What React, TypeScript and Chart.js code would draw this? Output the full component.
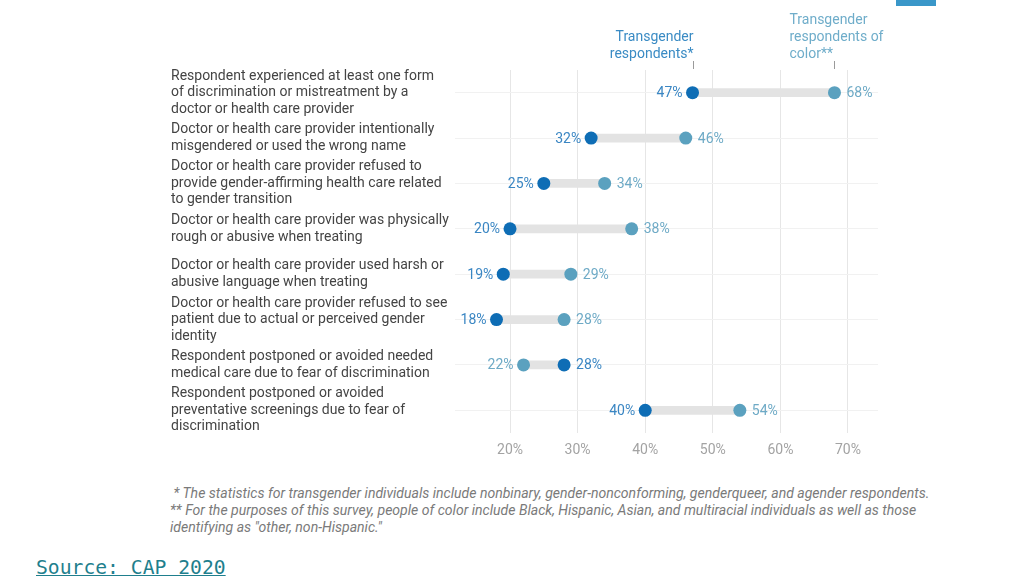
import React, { useEffect, useRef } from "react";
import { Chart, registerables } from "chart.js";

Chart.register(...registerables);

const categories: string[][] = [
  ["Respondent experienced at least one form", "of discrimination or mistreatment by a", "doctor or health care provider"],
  ["Doctor or health care provider intentionally", "misgendered or used the wrong name"],
  ["Doctor or health care provider refused to", "provide gender-affirming health care related", "to gender transition"],
  ["Doctor or health care provider was physically", "rough or abusive when treating"],
  ["Doctor or health care provider used harsh or", "abusive language when treating"],
  ["Doctor or health care provider refused to see", "patient due to actual or perceived gender", "identity"],
  ["Respondent postponed or avoided needed", "medical care due to fear of discrimination"],
  ["Respondent postponed or avoided", "preventative screenings due to fear of", "discrimination"],
];

const transgender: number[] = [47, 32, 25, 20, 19, 18, 28, 40];
const peopleOfColor: number[] = [68, 46, 34, 38, 29, 28, 22, 54];
const xTicks: number[] = [20, 30, 40, 50, 60, 70];

const seriesTitles: string[][] = [
  ["Transgender", "respondents*"],
  ["Transgender", "respondents of", "color**"],
];

const footnotes: string[] = [
  "\u00a0* The statistics for transgender individuals include nonbinary, gender-nonconforming, genderqueer, and agender respondents.",
  "** For the purposes of this survey, people of color include Black, Hispanic, Asian, and multiracial individuals as well as those",
  "identifying as \"other, non-Hispanic.\"",
];

const DARK = "#0e6db5";
const LIGHT = "#5ba1bf";
const DARK_TEXT = "#3a86c3";
const LIGHT_TEXT = "#6eaac6";
const FONT = "Roboto, 'Noto Sans', sans-serif";

const overlayPlugin = {
  id: "overlay",
  afterDatasetsDraw(chart: any) {
    const ctx = chart.ctx;
    const m0 = chart.getDatasetMeta(1);
    const m1 = chart.getDatasetMeta(2);
    ctx.save();
    ctx.font = `14px ${FONT}`;
    ctx.textBaseline = "middle";
    for (let i = 0; i < transgender.length; i++) {
      const a = m0.data[i];
      const b = m1.data[i];
      const tgLeft = transgender[i] <= peopleOfColor[i];
      ctx.fillStyle = DARK_TEXT;
      if (tgLeft) {
        ctx.textAlign = "right";
        ctx.fillText(transgender[i] + "%", a.x - 10, a.y + 1);
      } else {
        ctx.textAlign = "left";
        ctx.fillText(transgender[i] + "%", a.x + 12, a.y + 1);
      }
      ctx.fillStyle = LIGHT_TEXT;
      if (tgLeft) {
        ctx.textAlign = "left";
        ctx.fillText(peopleOfColor[i] + "%", b.x + 12, b.y + 1);
      } else {
        ctx.textAlign = "right";
        ctx.fillText(peopleOfColor[i] + "%", b.x - 10, b.y + 1);
      }
    }
    const xs = chart.scales.x;
    const x0 = xs.getPixelForValue(transgender[0]);
    const x1 = xs.getPixelForValue(peopleOfColor[0]);
    ctx.strokeStyle = "#9a9a9a";
    ctx.lineWidth = 1;
    ctx.beginPath();
    ctx.moveTo(Math.round(x0) + 0.5, 61);
    ctx.lineTo(Math.round(x0) + 0.5, 69);
    ctx.moveTo(Math.round(x1) + 0.5, 61);
    ctx.lineTo(Math.round(x1) + 0.5, 69);
    ctx.stroke();
    ctx.font = `14px ${FONT}`;
    ctx.fillStyle = "#3a8bc4";
    ctx.textAlign = "right";
    seriesTitles[0].forEach((t, k) => ctx.fillText(t, x0 + 1, 37 + k * 17));
    ctx.fillStyle = "#6fadca";
    ctx.textAlign = "left";
    seriesTitles[1].forEach((t, k) => ctx.fillText(t, x1 - 45, 20 + k * 17));
    ctx.restore();
  },
};

export default function App() {
  const ref = useRef<HTMLCanvasElement | null>(null);
  useEffect(() => {
    document.body.style.margin = "0";
    const chart = new Chart(ref.current as HTMLCanvasElement, {
      type: "bar",
      data: {
        labels: categories,
        datasets: [
          {
            type: "bar",
            data: transgender.map((v, i) => [Math.min(v, peopleOfColor[i]), Math.max(v, peopleOfColor[i])]) as any,
            backgroundColor: "#e3e3e3",
            barThickness: 8,
            borderSkipped: false,
            order: 3,
          } as any,
          {
            type: "line",
            data: transgender,
            showLine: false,
            pointRadius: 6.5,
            pointBackgroundColor: DARK,
            pointBorderColor: DARK,
            pointBorderWidth: 0,
            order: 1,
          } as any,
          {
            type: "line",
            data: peopleOfColor,
            showLine: false,
            pointRadius: 6.5,
            pointBackgroundColor: LIGHT,
            pointBorderColor: LIGHT,
            pointBorderWidth: 0,
            order: 2,
          } as any,
        ],
      },
      options: {
        indexAxis: "y",
        animation: false,
        responsive: false,
        maintainAspectRatio: false,
        layout: { padding: { left: 171, right: 146, top: 70, bottom: 0 } },
        plugins: { legend: { display: false }, tooltip: { enabled: false } },
        scales: {
          x: {
            type: "linear",
            min: 11.86,
            max: 74.44,
            afterBuildTicks: (s: any) => {
              s.ticks = xTicks.map((v) => ({ value: v }));
            },
            afterFit: (s: any) => {
              s.height = 37;
            },
            grid: { color: "#e6e6e6", drawTicks: false },
            border: { display: false },
            ticks: {
              padding: 9,
              color: "#a3a3a3",
              font: { family: FONT, size: 14 },
              callback: (v: any) => v + "%",
            },
          },
          y: {
            type: "category",
            offset: true,
            afterFit: (s: any) => {
              s.width = 284;
            },
            grid: { offset: false, color: "#f1f1f1", drawTicks: false },
            border: { display: false },
            ticks: {
              autoSkip: false,
              crossAlign: "far",
              padding: 0,
              color: "#444444",
              font: { family: FONT, size: 14, lineHeight: 1.18 },
            },
          },
        },
      } as any,
      plugins: [overlayPlugin],
    });
    return () => chart.destroy();
  }, []);

  return (
    <div style={{ position: "relative", width: 1024, height: 576, overflow: "hidden", background: "#fff" }}>
      <canvas ref={ref} width={1024} height={470} style={{ position: "absolute", left: 0, top: 0, width: 1024, height: 470 }} />
      <div style={{ position: "absolute", left: 896, top: 0, width: 40, height: 6, background: "#3a97c9" }} />
      <div
        style={{
          position: "absolute",
          left: 170,
          top: 485,
          fontFamily: FONT,
          fontStyle: "italic",
          fontSize: 14.05,
          lineHeight: "17px",
          color: "#7a7a7a",
          whiteSpace: "nowrap",
        }}
      >
        {footnotes.map((f, i) => (
          <div key={i}>{f}</div>
        ))}
      </div>
      <div
        style={{
          position: "absolute",
          left: 36,
          top: 556,
          fontFamily: "'DejaVu Sans Mono', 'Liberation Mono', monospace",
          fontSize: 19.7,
          lineHeight: "24px",
          color: "#1f7f8d",
          textDecoration: "underline",
          whiteSpace: "nowrap",
        }}
      >
        Source: CAP 2020
      </div>
    </div>
  );
}
